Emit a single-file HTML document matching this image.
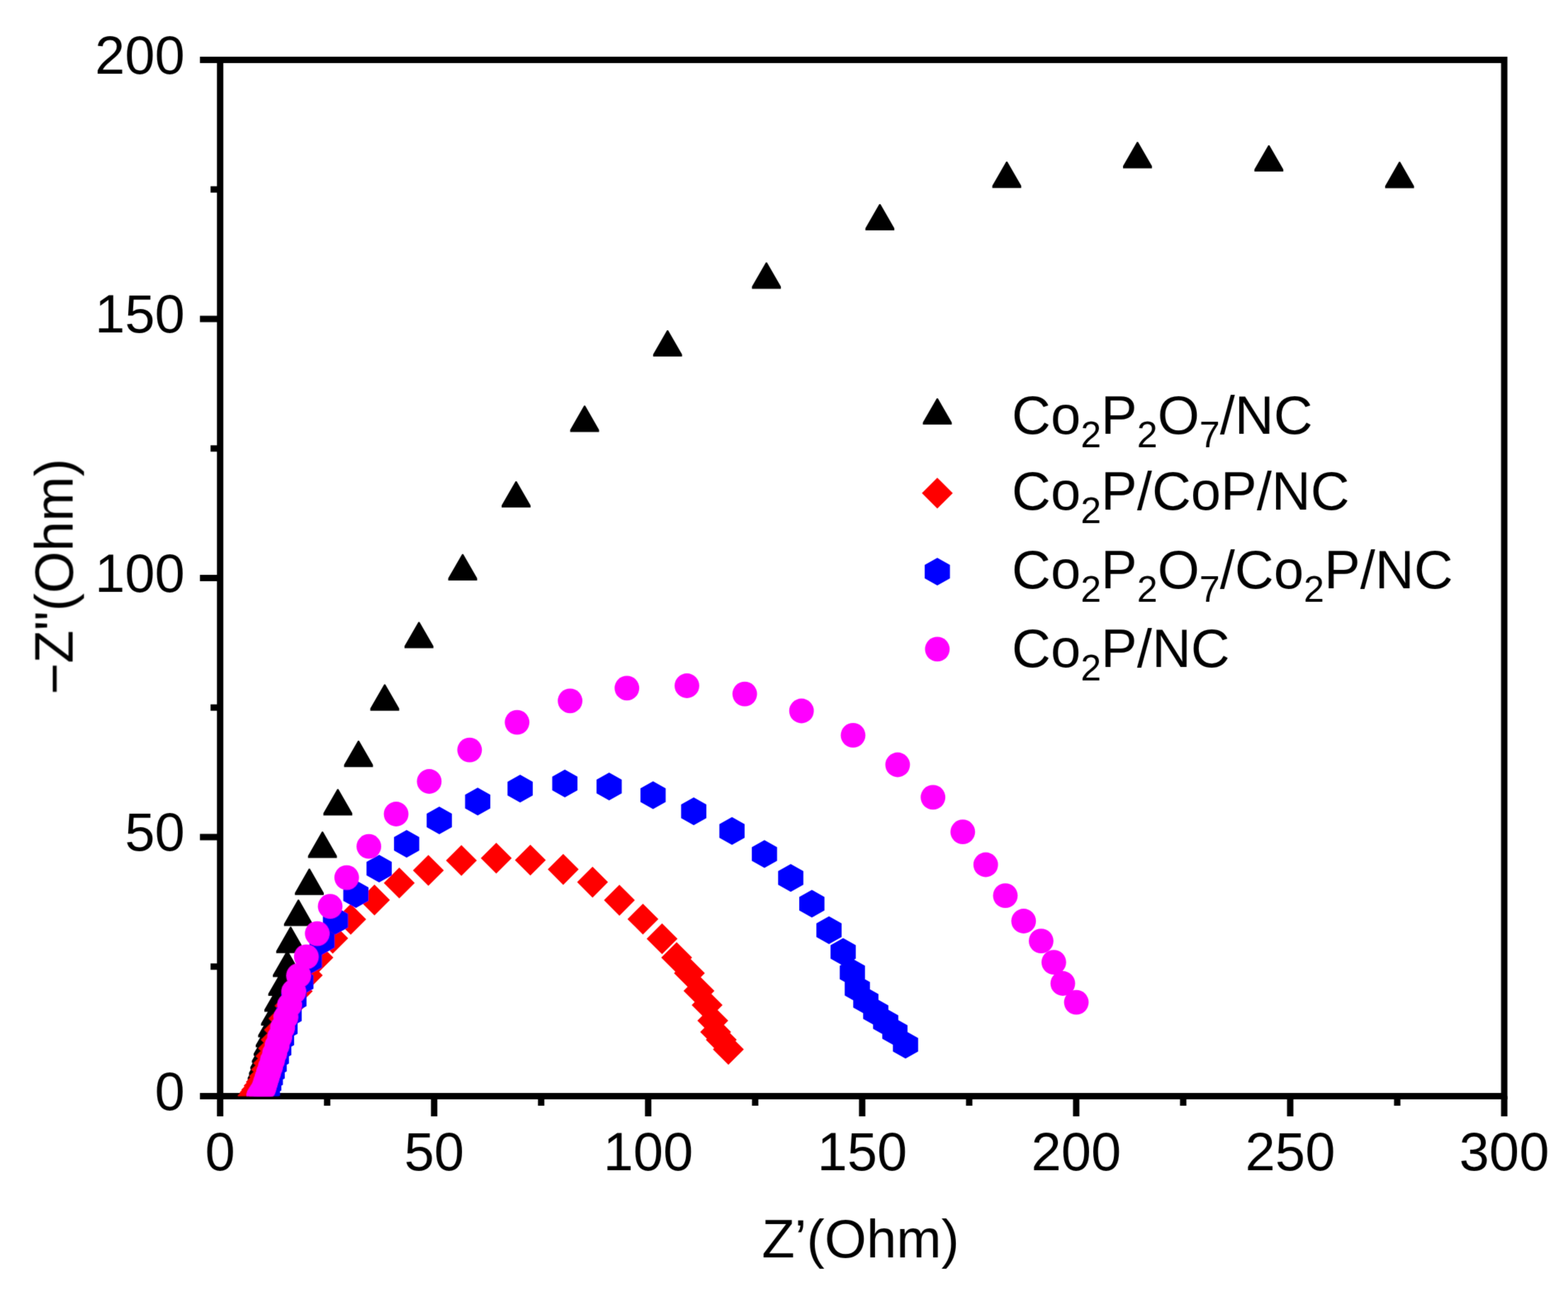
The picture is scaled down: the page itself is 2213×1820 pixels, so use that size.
<!DOCTYPE html>
<html><head><meta charset="utf-8"><title>Nyquist plot</title>
<style>
html,body{margin:0;padding:0;background:#fff;}
body{width:2213px;height:1820px;overflow:hidden;}
svg{display:block;}
text{font-family:"Liberation Sans", Arial, Helvetica, sans-serif;fill:#000;}
</style></head><body>
<svg width="2213" height="1820" viewBox="0 0 2213 1820">
<rect width="2213" height="1820" fill="#fff"/>
<defs><filter id="soft" filterUnits="userSpaceOnUse" x="0" y="0" width="2213" height="1820"><feConvolveMatrix order="3" kernelMatrix="1 6 1 6 36 6 1 6 1" divisor="64" edgeMode="duplicate"/></filter><clipPath id="pc"><rect x="310.7" y="84.5" width="1812.3" height="1462.0"/></clipPath></defs>
<g filter="url(#soft)">

<g stroke="#000" stroke-width="9.0" fill="none">
<rect x="310.7" y="84.5" width="1812.30" height="1462.00" stroke-linejoin="miter"/>
<path d="M310.70 1546.50V1575.00M461.73 1546.50V1560.00M612.75 1546.50V1575.00M763.77 1546.50V1560.00M914.80 1546.50V1575.00M1065.83 1546.50V1560.00M1216.85 1546.50V1575.00M1367.88 1546.50V1560.00M1518.90 1546.50V1575.00M1669.92 1546.50V1560.00M1820.95 1546.50V1575.00M1971.98 1546.50V1560.00M2123.00 1546.50V1575.00M310.70 1546.50H282.20M310.70 1363.75H297.20M310.70 1181.00H282.20M310.70 998.25H297.20M310.70 815.50H282.20M310.70 632.75H297.20M310.70 450.00H282.20M310.70 267.25H297.20M310.70 84.50H282.20" stroke-linecap="butt"/>
</g>
<text x="310.7" y="1651" text-anchor="middle" font-size="76">0</text>
<text x="612.8" y="1651" text-anchor="middle" font-size="76">50</text>
<text x="914.8" y="1651" text-anchor="middle" font-size="76">100</text>
<text x="1216.8" y="1651" text-anchor="middle" font-size="76">150</text>
<text x="1518.9" y="1651" text-anchor="middle" font-size="76">200</text>
<text x="1821.0" y="1651" text-anchor="middle" font-size="76">250</text>
<text x="2123.0" y="1651" text-anchor="middle" font-size="76">300</text>
<text x="260.8" y="1565.5" text-anchor="end" font-size="76">0</text>
<text x="260.8" y="1200.0" text-anchor="end" font-size="76">50</text>
<text x="260.8" y="834.5" text-anchor="end" font-size="76">100</text>
<text x="260.8" y="469.0" text-anchor="end" font-size="76">150</text>
<text x="260.8" y="103.5" text-anchor="end" font-size="76">200</text>
<text x="1214.5" y="1774" text-anchor="middle" font-size="76">Z’(Ohm)</text>
<text transform="translate(102.5 813.5) rotate(-90)" text-anchor="middle" font-size="76">−Z"(Ohm)</text>
<g clip-path="url(#pc)">
<path fill="#000" d="M1974.5 228.3L1976.1 228.3L1995.7 262.4L1995.7 265.5L1954.9 265.5L1954.9 262.4ZM1790.0 204.9L1791.6 204.9L1811.2 239.0L1811.2 242.1L1770.4 242.1L1770.4 239.0ZM1604.6 200.2L1606.2 200.2L1625.8 234.3L1625.8 237.4L1585.0 237.4L1585.0 234.3ZM1420.1 228.0L1421.7 228.0L1441.3 262.1L1441.3 265.2L1400.5 265.2L1400.5 262.1ZM1241.0 287.9L1242.6 287.9L1262.2 322.0L1262.2 325.1L1221.4 325.1L1221.4 322.0ZM1080.9 370.2L1082.5 370.2L1102.1 404.3L1102.1 407.4L1061.3 407.4L1061.3 404.3ZM941.4 465.9L943.0 465.9L962.6 500.0L962.6 503.1L921.8 503.1L921.8 500.0ZM824.3 572.3L825.9 572.3L845.5 606.4L845.5 609.5L804.7 609.5L804.7 606.4ZM727.6 678.9L729.2 678.9L748.8 713.0L748.8 716.1L708.0 716.1L708.0 713.0ZM652.2 781.7L653.8 781.7L673.4 815.8L673.4 818.9L632.6 818.9L632.6 815.8ZM590.5 877.4L592.1 877.4L611.7 911.5L611.7 914.6L570.9 914.6L570.9 911.5ZM542.2 965.5L543.8 965.5L563.4 999.6L563.4 1002.7L522.6 1002.7L522.6 999.6ZM505.2 1045.0L506.8 1045.0L526.4 1079.1L526.4 1082.2L485.6 1082.2L485.6 1079.1ZM476.0 1113.2L477.6 1113.2L497.2 1147.3L497.2 1150.4L456.4 1150.4L456.4 1147.3ZM454.3 1173.3L455.9 1173.3L475.5 1207.4L475.5 1210.5L434.7 1210.5L434.7 1207.4ZM435.8 1225.6L437.4 1225.6L457.0 1259.7L457.0 1262.8L416.2 1262.8L416.2 1259.7ZM420.4 1269.3L422.0 1269.3L441.6 1303.4L441.6 1306.5L400.8 1306.5L400.8 1303.4ZM409.4 1307.6L411.0 1307.6L430.6 1341.7L430.6 1344.8L389.8 1344.8L389.8 1341.7ZM404.7 1341.4L406.3 1341.4L425.9 1375.5L425.9 1378.6L385.1 1378.6L385.1 1375.5ZM398.2 1367.9L399.8 1367.9L419.4 1402.0L419.4 1405.1L378.6 1405.1L378.6 1402.0ZM392.7 1390.4L394.3 1390.4L413.9 1424.5L413.9 1427.6L373.1 1427.6L373.1 1424.5ZM388.0 1409.9L389.6 1409.9L409.2 1444.0L409.2 1447.1L368.4 1447.1L368.4 1444.0ZM383.9 1426.4L385.5 1426.4L405.1 1460.5L405.1 1463.6L364.3 1463.6L364.3 1460.5ZM380.5 1440.4L382.1 1440.4L401.7 1474.5L401.7 1477.6L360.9 1477.6L360.9 1474.5ZM377.6 1452.4L379.2 1452.4L398.8 1486.5L398.8 1489.6L358.0 1489.6L358.0 1486.5ZM375.1 1462.4L376.7 1462.4L396.3 1496.5L396.3 1499.6L355.5 1499.6L355.5 1496.5ZM372.9 1471.4L374.5 1471.4L394.1 1505.5L394.1 1508.6L353.3 1508.6L353.3 1505.5ZM371.0 1479.4L372.6 1479.4L392.2 1513.5L392.2 1516.6L351.4 1516.6L351.4 1513.5ZM369.2 1486.4L370.8 1486.4L390.4 1520.5L390.4 1523.6L349.6 1523.6L349.6 1520.5ZM367.8 1492.4L369.4 1492.4L389.0 1526.5L389.0 1529.6L348.2 1529.6L348.2 1526.5Z"/>
<path fill="#f00" d="M1028.0 1458.7L1049.8 1480.5L1028.0 1502.3L1006.2 1480.5ZM1018.0 1445.2L1039.8 1467.0L1018.0 1488.8L996.2 1467.0ZM1010.0 1434.2L1031.8 1456.0L1010.0 1477.8L988.2 1456.0ZM1006.0 1418.2L1027.8 1440.0L1006.0 1461.8L984.2 1440.0ZM998.0 1396.2L1019.8 1418.0L998.0 1439.8L976.2 1418.0ZM986.5 1376.2L1008.3 1398.0L986.5 1419.8L964.7 1398.0ZM973.0 1351.2L994.8 1373.0L973.0 1394.8L951.2 1373.0ZM955.0 1329.2L976.8 1351.0L955.0 1372.8L933.2 1351.0ZM934.4 1302.7L956.2 1324.5L934.4 1346.3L912.6 1324.5ZM907.4 1274.9L929.2 1296.7L907.4 1318.5L885.6 1296.7ZM874.2 1248.3L896.0 1270.1L874.2 1291.9L852.4 1270.1ZM836.3 1222.8L858.1 1244.6L836.3 1266.4L814.5 1244.6ZM794.9 1204.8L816.7 1226.6L794.9 1248.4L773.1 1226.6ZM748.5 1191.7L770.3 1213.5L748.5 1235.3L726.7 1213.5ZM700.4 1189.0L722.2 1210.8L700.4 1232.6L678.6 1210.8ZM651.2 1192.2L673.0 1214.0L651.2 1235.8L629.4 1214.0ZM604.6 1206.2L626.4 1228.0L604.6 1249.8L582.8 1228.0ZM563.5 1224.0L585.3 1245.8L563.5 1267.6L541.7 1245.8ZM528.5 1247.9L550.3 1269.7L528.5 1291.5L506.7 1269.7ZM495.0 1275.2L516.8 1297.0L495.0 1318.8L473.2 1297.0ZM469.6 1301.9L491.4 1323.7L469.6 1345.5L447.8 1323.7ZM448.7 1329.2L470.5 1351.0L448.7 1372.8L426.9 1351.0ZM433.7 1354.3L455.5 1376.1L433.7 1397.9L411.9 1376.1ZM419.5 1376.8L441.3 1398.6L419.5 1420.4L397.7 1398.6ZM409.6 1397.2L431.4 1419.0L409.6 1440.8L387.8 1419.0ZM400.9 1415.2L422.7 1437.0L400.9 1458.8L379.1 1437.0ZM394.6 1431.2L416.4 1453.0L394.6 1474.8L372.8 1453.0ZM390.1 1445.2L411.9 1467.0L390.1 1488.8L368.3 1467.0ZM386.3 1457.2L408.1 1479.0L386.3 1500.8L364.5 1479.0ZM382.7 1468.2L404.5 1490.0L382.7 1511.8L360.9 1490.0ZM379.5 1478.2L401.3 1500.0L379.5 1521.8L357.7 1500.0ZM376.6 1487.2L398.4 1509.0L376.6 1530.8L354.8 1509.0ZM373.6 1496.6L395.4 1518.4L373.6 1540.2L351.8 1518.4ZM368.8 1504.6L390.6 1526.4L368.8 1548.2L347.0 1526.4ZM365.7 1509.9L387.5 1531.7L365.7 1553.5L343.9 1531.7ZM362.3 1515.6L384.1 1537.4L362.3 1559.2L340.5 1537.4ZM360.0 1519.4L381.8 1541.2L360.0 1563.0L338.2 1541.2ZM357.1 1524.2L378.9 1546.0L357.1 1567.8L335.3 1546.0Z"/>
<path fill="#00f" d="M1278.0 1454.4L1295.8 1464.4L1295.8 1483.6L1278.0 1493.6L1260.2 1483.6L1260.2 1464.4ZM1263.0 1436.4L1280.8 1446.4L1280.8 1465.6L1263.0 1475.6L1245.2 1465.6L1245.2 1446.4ZM1250.0 1422.4L1267.8 1432.4L1267.8 1451.6L1250.0 1461.6L1232.2 1451.6L1232.2 1432.4ZM1236.0 1408.4L1253.8 1418.4L1253.8 1437.6L1236.0 1447.6L1218.2 1437.6L1218.2 1418.4ZM1222.0 1392.4L1239.8 1402.4L1239.8 1421.6L1222.0 1431.6L1204.2 1421.6L1204.2 1402.4ZM1210.0 1375.4L1227.8 1385.4L1227.8 1404.6L1210.0 1414.6L1192.2 1404.6L1192.2 1385.4ZM1203.0 1352.4L1220.8 1362.4L1220.8 1381.6L1203.0 1391.6L1185.2 1381.6L1185.2 1362.4ZM1190.0 1323.4L1207.8 1333.4L1207.8 1352.6L1190.0 1362.6L1172.2 1352.6L1172.2 1333.4ZM1170.0 1292.7L1187.8 1302.7L1187.8 1321.9L1170.0 1331.9L1152.2 1321.9L1152.2 1302.7ZM1145.8 1255.4L1163.6 1265.4L1163.6 1284.6L1145.8 1294.6L1128.0 1284.6L1128.0 1265.4ZM1116.0 1219.1L1133.8 1229.1L1133.8 1248.3L1116.0 1258.3L1098.2 1248.3L1098.2 1229.1ZM1078.9 1185.2L1096.7 1195.2L1096.7 1214.4L1078.9 1224.4L1061.1 1214.4L1061.1 1195.2ZM1033.1 1152.8L1050.9 1162.8L1050.9 1182.0L1033.1 1192.0L1015.3 1182.0L1015.3 1162.8ZM979.1 1125.0L996.9 1135.0L996.9 1154.2L979.1 1164.2L961.3 1154.2L961.3 1135.0ZM921.7 1102.2L939.5 1112.2L939.5 1131.4L921.7 1141.4L903.9 1131.4L903.9 1112.2ZM859.7 1090.0L877.5 1100.0L877.5 1119.2L859.7 1129.2L841.9 1119.2L841.9 1100.0ZM797.2 1085.7L815.0 1095.7L815.0 1114.9L797.2 1124.9L779.4 1114.9L779.4 1095.7ZM734.1 1093.1L751.9 1103.1L751.9 1122.3L734.1 1132.3L716.3 1122.3L716.3 1103.1ZM674.2 1111.2L692.0 1121.2L692.0 1140.4L674.2 1150.4L656.4 1140.4L656.4 1121.2ZM620.0 1137.9L637.8 1147.9L637.8 1167.1L620.0 1177.1L602.2 1167.1L602.2 1147.9ZM573.9 1170.9L591.7 1180.9L591.7 1200.1L573.9 1210.1L556.1 1200.1L556.1 1180.9ZM535.1 1205.9L552.9 1215.9L552.9 1235.1L535.1 1245.1L517.3 1235.1L517.3 1215.9ZM502.3 1241.9L520.1 1251.9L520.1 1271.1L502.3 1281.1L484.5 1271.1L484.5 1251.9ZM473.5 1279.2L491.3 1289.2L491.3 1308.4L473.5 1318.4L455.7 1308.4L455.7 1289.2ZM454.5 1307.9L472.3 1317.9L472.3 1337.1L454.5 1347.1L436.7 1337.1L436.7 1317.9ZM436.6 1335.9L454.4 1345.9L454.4 1365.1L436.6 1375.1L418.8 1365.1L418.8 1345.9ZM424.6 1365.9L442.4 1375.9L442.4 1395.1L424.6 1405.1L406.8 1395.1L406.8 1375.9ZM414.8 1390.4L432.6 1400.4L432.6 1419.6L414.8 1429.6L397.0 1419.6L397.0 1400.4ZM408.0 1411.4L425.8 1421.4L425.8 1440.6L408.0 1450.6L390.2 1440.6L390.2 1421.4ZM402.2 1429.4L420.0 1439.4L420.0 1458.6L402.2 1468.6L384.4 1458.6L384.4 1439.4ZM397.3 1445.4L415.1 1455.4L415.1 1474.6L397.3 1484.6L379.5 1474.6L379.5 1455.4ZM393.4 1459.4L411.2 1469.4L411.2 1488.6L393.4 1498.6L375.6 1488.6L375.6 1469.4ZM390.0 1471.4L407.8 1481.4L407.8 1500.6L390.0 1510.6L372.2 1500.6L372.2 1481.4ZM386.9 1482.4L404.7 1492.4L404.7 1511.6L386.9 1521.6L369.1 1511.6L369.1 1492.4ZM384.1 1492.4L401.9 1502.4L401.9 1521.6L384.1 1531.6L366.3 1521.6L366.3 1502.4ZM381.5 1501.4L399.3 1511.4L399.3 1530.6L381.5 1540.6L363.7 1530.6L363.7 1511.4ZM379.3 1509.4L397.1 1519.4L397.1 1538.6L379.3 1548.6L361.5 1538.6L361.5 1519.4ZM377.3 1516.4L395.1 1526.4L395.1 1545.6L377.3 1555.6L359.5 1545.6L359.5 1526.4ZM375.6 1522.4L393.4 1532.4L393.4 1551.6L375.6 1561.6L357.8 1551.6L357.8 1532.4ZM373.9 1528.4L391.7 1538.4L391.7 1557.6L373.9 1567.6L356.1 1557.6L356.1 1538.4Z"/>
<g fill="#f0f"><circle cx="1519.1" cy="1414.1" r="17.4"/><circle cx="1500.0" cy="1387.5" r="17.4"/><circle cx="1487.3" cy="1357.6" r="17.4"/><circle cx="1469.4" cy="1327.6" r="17.4"/><circle cx="1444.7" cy="1299.5" r="17.4"/><circle cx="1418.9" cy="1263.6" r="17.4"/><circle cx="1391.2" cy="1220.0" r="17.4"/><circle cx="1358.8" cy="1173.7" r="17.4"/><circle cx="1316.8" cy="1124.9" r="17.4"/><circle cx="1266.9" cy="1079.0" r="17.4"/><circle cx="1204.0" cy="1037.4" r="17.4"/><circle cx="1131.2" cy="1003.0" r="17.4"/><circle cx="1051.1" cy="979.1" r="17.4"/><circle cx="969.5" cy="967.5" r="17.4"/><circle cx="884.8" cy="970.8" r="17.4"/><circle cx="804.6" cy="988.8" r="17.4"/><circle cx="729.8" cy="1019.1" r="17.4"/><circle cx="662.8" cy="1058.1" r="17.4"/><circle cx="605.8" cy="1102.5" r="17.4"/><circle cx="559.1" cy="1148.5" r="17.4"/><circle cx="520.6" cy="1194.2" r="17.4"/><circle cx="489.3" cy="1238.1" r="17.4"/><circle cx="466.0" cy="1278.7" r="17.4"/><circle cx="447.7" cy="1317.1" r="17.4"/><circle cx="432.3" cy="1349.9" r="17.4"/><circle cx="421.5" cy="1376.5" r="17.4"/><circle cx="414.6" cy="1399.0" r="17.4"/><circle cx="408.7" cy="1418.0" r="17.4"/><circle cx="403.5" cy="1435.0" r="17.4"/><circle cx="398.8" cy="1450.0" r="17.4"/><circle cx="394.8" cy="1463.0" r="17.4"/><circle cx="391.1" cy="1475.0" r="17.4"/><circle cx="387.7" cy="1486.0" r="17.4"/><circle cx="384.6" cy="1496.0" r="17.4"/><circle cx="381.8" cy="1505.0" r="17.4"/><circle cx="379.2" cy="1513.0" r="17.4"/><circle cx="377.0" cy="1520.0" r="17.4"/><circle cx="374.8" cy="1527.0" r="17.4"/><circle cx="372.9" cy="1533.0" r="17.4"/><circle cx="372.0" cy="1536.0" r="17.4"/><circle cx="368.5" cy="1541.0" r="17.4"/><circle cx="365.3" cy="1546.0" r="17.4"/></g>
</g>
<path fill="#000" d="M1322.1 561.9L1323.7 561.9L1343.3 596.0L1343.3 599.1L1302.5 599.1L1302.5 596.0Z"/>
<path fill="#f00" d="M1322.9 674.0L1344.7 695.8L1322.9 717.6L1301.1 695.8Z"/>
<path fill="#00f" d="M1322.9 786.9L1340.7 796.9L1340.7 816.1L1322.9 826.1L1305.1 816.1L1305.1 796.9Z"/>
<circle fill="#f0f" cx="1322.9" cy="915.9" r="17.4"/>
<text x="1428" y="611.7" font-size="76"><tspan dy="0">Co</tspan><tspan font-size="52" dy="19">2</tspan><tspan dy="-19">P</tspan><tspan font-size="52" dy="19">2</tspan><tspan dy="-19">O</tspan><tspan font-size="52" dy="19">7</tspan><tspan dy="-19">/NC</tspan></text>
<text x="1428" y="719.3" font-size="76"><tspan dy="0">Co</tspan><tspan font-size="52" dy="19">2</tspan><tspan dy="-19">P/CoP/NC</tspan></text>
<text x="1428" y="830" font-size="76"><tspan dy="0">Co</tspan><tspan font-size="52" dy="19">2</tspan><tspan dy="-19">P</tspan><tspan font-size="52" dy="19">2</tspan><tspan dy="-19">O</tspan><tspan font-size="52" dy="19">7</tspan><tspan dy="-19">/Co</tspan><tspan font-size="52" dy="19">2</tspan><tspan dy="-19">P/NC</tspan></text>
<text x="1428" y="940.6" font-size="76"><tspan dy="0">Co</tspan><tspan font-size="52" dy="19">2</tspan><tspan dy="-19">P/NC</tspan></text>
</g></svg>
</body></html>
